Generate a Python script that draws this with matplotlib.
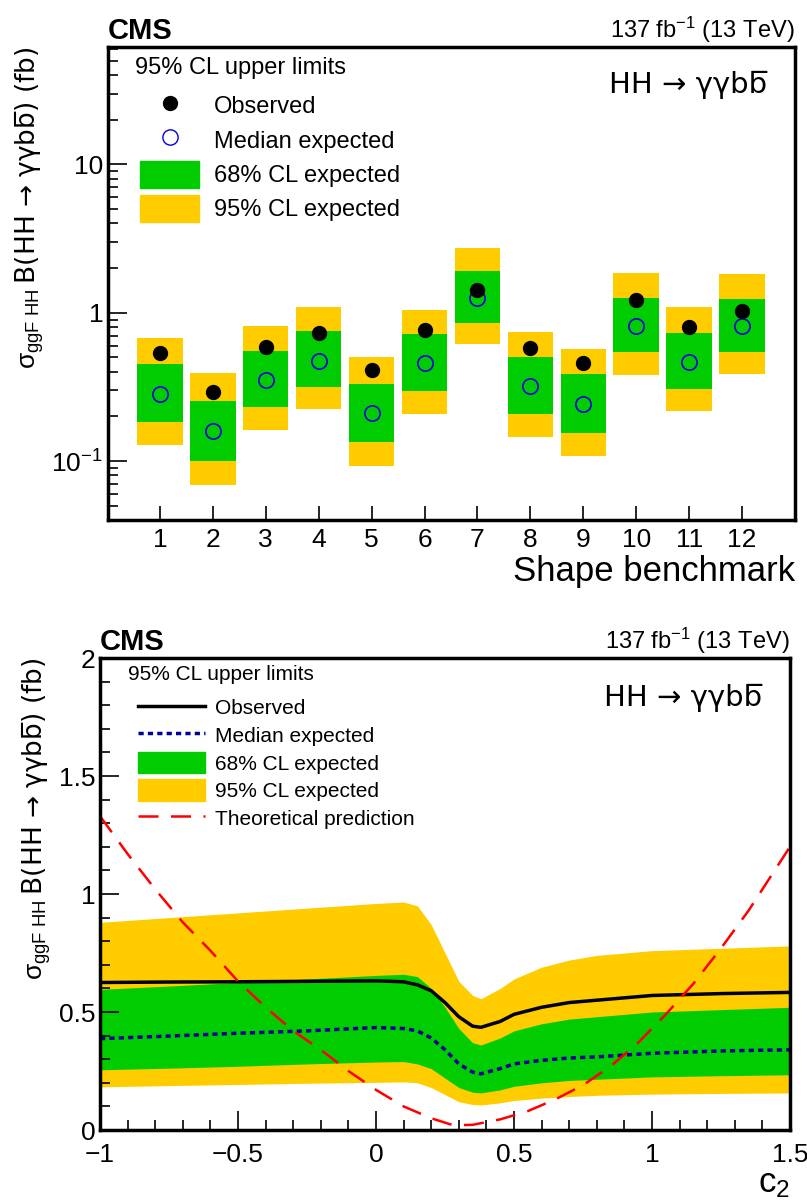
import matplotlib
matplotlib.use("Agg")
import matplotlib.pyplot as plt
import numpy as np
from matplotlib.patches import Patch
from matplotlib.lines import Line2D
from matplotlib.ticker import LogLocator, NullFormatter, FixedLocator, MultipleLocator

plt.rcParams['font.family'] = ['Liberation Sans', 'DejaVu Sans']
plt.rcParams['mathtext.fontset'] = 'custom'
plt.rcParams['mathtext.rm'] = 'Liberation Sans'
plt.rcParams['mathtext.it'] = 'Liberation Sans'

GREEN = '#00cc00'
YELLOW = '#ffcc00'

# ---- top panel data ----
bench = [1, 2, 3, 4, 5, 6, 7, 8, 9, 10, 11, 12]
obs_b = [0.537, 0.292, 0.59, 0.733, 0.412, 0.768, 1.43, 0.58, 0.46, 1.22, 0.804, 1.02]
exp_b = [0.284, 0.16, 0.353, 0.474, 0.21, 0.46, 1.26, 0.32, 0.243, 0.817, 0.467, 0.817]
s1_up = [0.45, 0.254, 0.553, 0.756, 0.331, 0.72, 1.92, 0.5, 0.387, 1.26, 0.733, 1.24]
s1_dn = [0.183, 0.1, 0.232, 0.316, 0.134, 0.297, 0.856, 0.207, 0.155, 0.545, 0.306, 0.545]
s2_up = [0.68, 0.39, 0.817, 1.1, 0.504, 1.05, 2.75, 0.744, 0.57, 1.86, 1.1, 1.83]
s2_dn = [0.128, 0.069, 0.162, 0.225, 0.093, 0.207, 0.617, 0.145, 0.108, 0.38, 0.218, 0.387]

# ---- bottom panel data ----
c2 = [-1.0, -0.75, -0.5, -0.25, 0.0, 0.1, 0.15, 0.2, 0.25, 0.3, 0.35, 0.38, 0.45, 0.5, 0.6, 0.7, 0.8, 1.0, 1.25, 1.5]
obs_c = [0.625, 0.627, 0.628, 0.630, 0.632, 0.628, 0.615, 0.59, 0.54, 0.48, 0.44, 0.435, 0.46, 0.49, 0.52, 0.54, 0.55, 0.57, 0.578, 0.583]
exp_c = [0.387, 0.398, 0.41, 0.42, 0.434, 0.43, 0.42, 0.39, 0.34, 0.28, 0.245, 0.238, 0.26, 0.28, 0.295, 0.305, 0.31, 0.325, 0.335, 0.34]
b68_up = [0.596, 0.61, 0.625, 0.64, 0.655, 0.66, 0.65, 0.6, 0.52, 0.43, 0.37, 0.36, 0.39, 0.42, 0.45, 0.47, 0.48, 0.5, 0.51, 0.52]
b68_dn = [0.255, 0.262, 0.27, 0.28, 0.288, 0.29, 0.28, 0.26, 0.22, 0.18, 0.16, 0.157, 0.17, 0.185, 0.2, 0.21, 0.215, 0.225, 0.23, 0.234]
b95_up = [0.88, 0.9, 0.92, 0.94, 0.96, 0.966, 0.95, 0.87, 0.75, 0.63, 0.57, 0.556, 0.6, 0.64, 0.69, 0.72, 0.74, 0.76, 0.77, 0.78]
b95_dn = [0.183, 0.188, 0.193, 0.198, 0.202, 0.204, 0.2, 0.18, 0.15, 0.12, 0.108, 0.106, 0.115, 0.125, 0.135, 0.142, 0.147, 0.152, 0.155, 0.157]
th_x = [-1.0, -0.9, -0.8, -0.7, -0.6, -0.5, -0.4, -0.3, -0.2, -0.1, 0.0, 0.1, 0.2, 0.28, 0.35, 0.45, 0.55, 0.65, 0.75, 0.85, 0.95, 1.05, 1.15, 1.25, 1.35, 1.45, 1.5]
th_y = [1.33, 1.17, 1.02, 0.88, 0.76, 0.63, 0.52, 0.42, 0.34, 0.25, 0.08 + 0.1, 0.11, 0.07, 0.04, 0.045, 0.06, 0.08, 0.13, 0.19, 0.27, 0.37, 0.49, 0.62, 0.77, 0.93, 1.11, 1.2]
th_y[10] = 0.17
th_y[11] = 0.1
th_y[12] = 0.05
th_y[13] = 0.02
th_y[14] = 0.022
th_y[15] = 0.045
th_y[16] = 0.08

W, H = 807, 1204
fig = plt.figure(figsize=(W / 100, H / 100), dpi=100)

def ax_at(x0, y0, x1, y1):
    return fig.add_axes([x0 / W, 1 - y1 / H, (x1 - x0) / W, (y1 - y0) / H])

def style(ax):
    for s in ax.spines.values():
        s.set_linewidth(2.5)
    ax.tick_params(which='both', direction='in', top=False, right=False, labelsize=19, width=1.2)
    ax.tick_params(which='major', length=14)
    ax.tick_params(which='minor', length=7)
    ax.tick_params(axis='x', pad=6)

HHTXT = 'HH \u2192 \u03b3\u03b3bb\u0305'
YLAB = r'$\sigma_{\mathrm{ggF\ HH}}$' + '\u2009B(HH \u2192 \u03b3\u03b3bb\u0305) (fb)'

# ---- top ----
ax = ax_at(108, 47, 795, 520)
hw = 0.43
for i, b in enumerate(bench):
    ax.fill_between([b - hw, b + hw], s2_dn[i], s2_up[i], color=YELLOW, lw=0)
    ax.fill_between([b - hw, b + hw], s1_dn[i], s1_up[i], color=GREEN, lw=0)
ax.plot(bench, exp_b, 'o', mfc='none', mec='#0000dd', ms=11, mew=1.2)
ax.plot(bench, obs_b, 'o', color='black', ms=10)
ax.set_yscale('log')
ax.set_ylim(0.04, 62)
ax.set_xlim(0.02, 13.0)
ax.set_xticks(bench)
ax.xaxis.set_minor_locator(FixedLocator([]))
ax.set_yticks([0.1, 1, 10])
ax.set_yticklabels(['$10^{-1}$', '1', '10'])
ax.yaxis.set_minor_locator(LogLocator(subs=np.arange(2, 10)))
ax.yaxis.set_minor_formatter(NullFormatter())
style(ax)
ax.tick_params(axis='x', which='major', length=10)
ax.set_xlabel('Shape benchmark', fontsize=25, loc='right', labelpad=2)
ax.set_ylabel(YLAB, fontsize=19, loc='top', family=['DejaVu Sans'])
ax.text(0.0, 1.005, 'CMS', transform=ax.transAxes, fontsize=21, fontweight='bold', va='bottom')
ax.text(1.0, 1.005, '137 fb$^{-1}$ (13 TeV)', transform=ax.transAxes, fontsize=17, ha='right', va='bottom')
ax.text(0.96, 0.92, HHTXT, transform=ax.transAxes, fontsize=21, ha='right', va='center', family=['DejaVu Sans'])
ax.text(0.04, 0.955, '95% CL upper limits', transform=ax.transAxes, fontsize=17, va='center')
hdl = [Line2D([], [], ls='none', marker='o', color='black', ms=10),
       Line2D([], [], ls='none', marker='o', mfc='none', mec='#0000dd', ms=11),
       Patch(color=GREEN), Patch(color=YELLOW)]
ax.legend(hdl, ['Observed', 'Median expected', '68% CL expected', '95% CL expected'],
          loc='upper left', bbox_to_anchor=(0.03, 0.93), frameon=False, fontsize=17,
          handlelength=2.5, handleheight=1.4, handletextpad=0.6, labelspacing=0.3, borderpad=0)

# ---- bottom ----
ax2 = ax_at(100, 658, 790, 1130)
ax2.fill_between(c2, b95_dn, b95_up, color=YELLOW, lw=0)
ax2.fill_between(c2, b68_dn, b68_up, color=GREEN, lw=0)
ax2.plot(c2, exp_c, color='#000099', ls=(0, (1.5, 1.2)), lw=2.5)
ax2.plot(c2, obs_c, color='black', lw=2.5)
ax2.plot(th_x, th_y, color='red', ls=(0, (8, 5)), lw=1.8)
ax2.set_xlim(-1, 1.5)
ax2.set_ylim(0, 2)
ax2.set_xticks([-1, -0.5, 0, 0.5, 1, 1.5])
ax2.set_xticklabels(['\u22121', '\u22120.5', '0', '0.5', '1', '1.5'])
ax2.xaxis.set_minor_locator(MultipleLocator(0.1))
ax2.set_yticks([0, 0.5, 1, 1.5, 2])
ax2.set_yticklabels(['0', '0.5', '1', '1.5', '2'])
ax2.yaxis.set_minor_locator(MultipleLocator(0.1))
style(ax2)
ax2.tick_params(axis='x', pad=9)
ax2.set_xlabel('c$_2$', fontsize=25, loc='right', labelpad=0)
ax2.set_ylabel(YLAB, fontsize=19, loc='top', family=['DejaVu Sans'])
ax2.text(0.0, 1.005, 'CMS', transform=ax2.transAxes, fontsize=21, fontweight='bold', va='bottom')
ax2.text(1.0, 1.005, '137 fb$^{-1}$ (13 TeV)', transform=ax2.transAxes, fontsize=17, ha='right', va='bottom')
ax2.text(0.96, 0.915, HHTXT, transform=ax2.transAxes, fontsize=21, ha='right', va='center', family=['DejaVu Sans'])
ax2.text(0.04, 0.965, '95% CL upper limits', transform=ax2.transAxes, fontsize=15, va='center')
hdl2 = [Line2D([], [], color='black', lw=2.5),
        Line2D([], [], color='#000099', ls=(0, (1.5, 1.2)), lw=2.5),
        Patch(color=GREEN), Patch(color=YELLOW),
        Line2D([], [], color='red', ls=(0, (8, 5)), lw=1.8)]
ax2.legend(hdl2, ['Observed', 'Median expected', '68% CL expected', '95% CL expected', 'Theoretical prediction'],
           loc='upper left', bbox_to_anchor=(0.04, 0.94), frameon=False, fontsize=15,
           handlelength=3.2, handleheight=1.2, handletextpad=0.5, labelspacing=0.28, borderpad=0)

fig.savefig('out.png', dpi=100)
